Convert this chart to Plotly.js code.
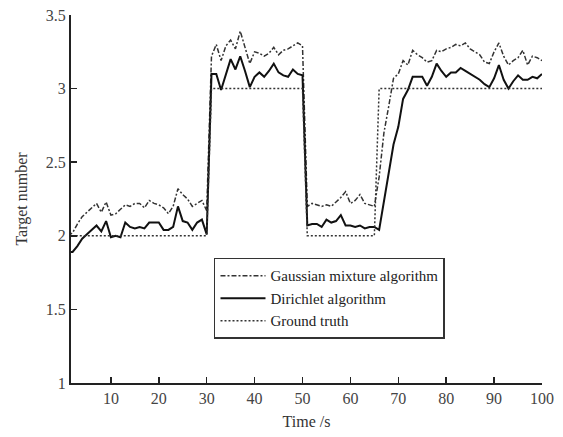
<!DOCTYPE html>
<html>
<head>
<meta charset="utf-8">
<script src="https://cdn.plot.ly/plotly-3.0.1.min.js"></script>
<style>html,body{margin:0;padding:0;background:#fff;}#chart{width:563px;height:437px;}</style>
</head>
<body>
<div id="chart"></div>
<script>
// Time in seconds (1..100)
const time = Array.from({length: 100}, (_, i) => i + 1);

const gaussianMixture = [
  2.00, 2.02, 2.08, 2.13, 2.16, 2.19, 2.22, 2.16, 2.23, 2.14,
  2.15, 2.18, 2.21, 2.20, 2.22, 2.22, 2.19, 2.24, 2.22, 2.21,
  2.19, 2.15, 2.20, 2.32, 2.28, 2.25, 2.20, 2.22, 2.24, 2.17,
  3.22, 3.30, 3.19, 3.29, 3.33, 3.27, 3.39, 3.28, 3.17, 3.25,
  3.24, 3.22, 3.24, 3.28, 3.23, 3.26, 3.27, 3.29, 3.31, 3.29,
  2.20, 2.22, 2.21, 2.20, 2.21, 2.20, 2.23, 2.26, 2.30, 2.22,
  2.24, 2.28, 2.22, 2.21, 2.20, 2.40, 2.70, 2.88, 3.07, 3.10,
  3.19, 3.16, 3.26, 3.23, 3.21, 3.18, 3.19, 3.26, 3.25, 3.27,
  3.28, 3.30, 3.29, 3.31, 3.27, 3.25, 3.23, 3.18, 3.17, 3.25,
  3.31, 3.22, 3.16, 3.19, 3.21, 3.26, 3.16, 3.22, 3.21, 3.19
];

const dirichlet = [
  1.89, 1.89, 1.93, 1.98, 2.01, 2.04, 2.07, 2.03, 2.10, 1.99,
  2.00, 1.99, 2.09, 2.06, 2.05, 2.06, 2.05, 2.09, 2.09, 2.09,
  2.04, 2.04, 2.06, 2.20, 2.10, 2.09, 2.04, 2.09, 2.11, 2.01,
  3.10, 3.10, 2.99, 3.10, 3.20, 3.13, 3.22, 3.12, 3.01, 3.08,
  3.11, 3.08, 3.12, 3.17, 3.11, 3.09, 3.08, 3.13, 3.10, 3.09,
  2.07, 2.08, 2.08, 2.06, 2.11, 2.09, 2.10, 2.14, 2.07, 2.07,
  2.06, 2.07, 2.05, 2.06, 2.06, 2.04, 2.24, 2.45, 2.62, 2.74,
  2.93, 2.99, 3.08, 3.08, 3.08, 3.02, 3.08, 3.17, 3.12, 3.08,
  3.11, 3.11, 3.14, 3.12, 3.10, 3.08, 3.06, 3.03, 3.01, 3.07,
  3.16, 3.06, 3.00, 3.05, 3.09, 3.06, 3.06, 3.08, 3.07, 3.10
];

const groundTruth = [
  2,2,2,2,2,2,2,2,2,2, 2,2,2,2,2,2,2,2,2,2, 2,2,2,2,2,2,2,2,2,2,
  3,3,3,3,3,3,3,3,3,3, 3,3,3,3,3,3,3,3,3,3,
  2,2,2,2,2,2,2,2,2,2, 2,2,2,2,2,
  3,3,3,3,3,3,3,3,3,3, 3,3,3,3,3,3,3,3,3,3, 3,3,3,3,3,3,3,3,3,3, 3,3,3,3,3
];

const seriesNames = ["Gaussian mixture algorithm", "Dirichlet algorithm", "Ground truth"];
const xTicks = [10, 20, 30, 40, 50, 60, 70, 80, 90, 100];
const yTicks = [1, 1.5, 2, 2.5, 3, 3.5];
const yTickText = ["1", "1.5", "2", "2.5", "3", "3.5"];

const FONT = "Liberation Serif, Times New Roman, serif";

const traces = [
  {x: time, y: gaussianMixture, name: seriesNames[0], mode: "lines",
   line: {color: "#333", width: 1.5, dash: "5px,2px,2px,2px"}},
  {x: time, y: dirichlet, name: seriesNames[1], mode: "lines",
   line: {color: "#111", width: 2}},
  {x: time, y: groundTruth, name: seriesNames[2], mode: "lines",
   line: {color: "#333", width: 1.5, dash: "2px,2px"}}
];

const layout = {
  width: 563, height: 437,
  margin: {l: 71, r: 21, t: 15, b: 54},
  paper_bgcolor: "#fff", plot_bgcolor: "#fff",
  font: {family: FONT, size: 16, color: "#333"},
  showlegend: true,
  legend: {
    x: 0.3036, y: 0.34, xanchor: "left", yanchor: "top",
    bgcolor: "#fff", bordercolor: "#333", borderwidth: 1.5,
    font: {family: FONT, size: 15, color: "#222"},
    itemwidth: 45, tracegroupgap: 0
  },
  xaxis: {
    range: [1.67, 100], tickvals: xTicks, ticktext: xTicks.map(String),
    ticks: "inside", ticklen: 6, tickwidth: 1.5, tickcolor: "#222",
    showline: true, linecolor: "#222", linewidth: 2, mirror: false,
    showgrid: false, zeroline: false,
    tickfont: {family: FONT, size: 16, color: "#444"},
    title: {text: "Time /s", font: {family: FONT, size: 16, color: "#333"}, standoff: 10}
  },
  yaxis: {
    range: [1, 3.5], tickvals: yTicks, ticktext: yTickText,
    ticks: "inside", ticklen: 6, tickwidth: 1.5, tickcolor: "#222",
    showline: true, linecolor: "#222", linewidth: 2, mirror: false,
    showgrid: false, zeroline: false,
    tickfont: {family: FONT, size: 16, color: "#444"},
    title: {text: "Target number", font: {family: FONT, size: 16, color: "#333"}, standoff: 14}
  }
};

Plotly.newPlot("chart", traces, layout, {displayModeBar: false, staticPlot: true});
</script>
</body>
</html>
